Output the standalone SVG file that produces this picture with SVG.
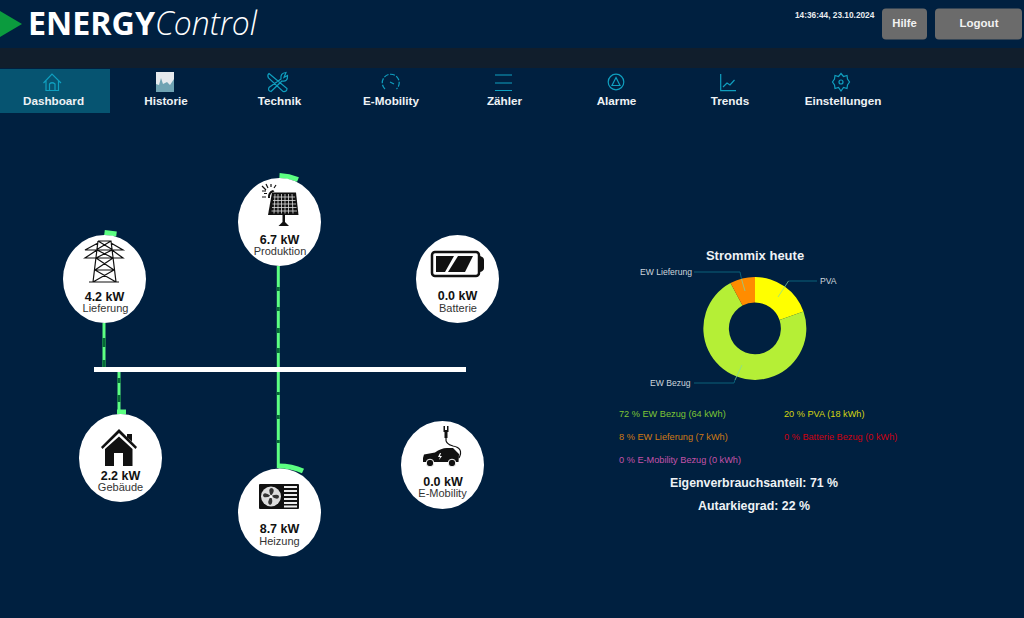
<svg xmlns="http://www.w3.org/2000/svg" width="1024" height="618" viewBox="0 0 1024 618">
<style>
text{font-family:"Liberation Sans",Arial,sans-serif}
.nav{font-size:11.7px;font-weight:700;fill:#eef2f5;text-anchor:middle}
.ic{fill:none;stroke:#0f9fbf;stroke-width:1.2}
.node{fill:#fff}
.kw{font-size:12.5px;font-weight:700;fill:#111;text-anchor:middle}
.lb{font-size:11px;fill:#333;text-anchor:middle}
.flow{fill:none;stroke:#5cff82;stroke-width:3}
.flowd{fill:none;stroke:#056b35;stroke-width:3}
.arc{fill:none;stroke:#5cff82;stroke-width:5}
.s{fill:none;stroke:#111;stroke-width:1.2}
.b{fill:#111}
.pl{font-size:8.6px;fill:#cdd5dc}
.ll{fill:none;stroke:#0b6079;stroke-width:1}
.li{fill:none;stroke:#7fd8a0;stroke-width:1;opacity:.7}
.lg{font-size:9.2px}
.big{font-size:12.35px;font-weight:700;fill:#eef2f5;text-anchor:middle}
</style>
<rect width="1024" height="618" fill="#002040"/>
<rect y="48" width="1024" height="20" fill="#111e2c"/>
<g id="header">
<polygon points="0,11 22,24 0,37" fill="#0b9b3e"/>
<text x="28" y="35" font-size="33" font-weight="700" fill="#fff" style="font-family:'Open Sans',sans-serif" textLength="127" lengthAdjust="spacingAndGlyphs">ENERGY</text>
<text x="155" y="35" font-size="33" font-weight="300" font-style="italic" fill="#fff" style="font-family:'Open Sans',sans-serif" textLength="102" lengthAdjust="spacingAndGlyphs">Control</text>
<text x="795" y="18" font-size="8.3" font-weight="700" fill="#e8ecef">14:36:44, 23.10.2024</text>
<rect x="882" y="8.500" width="45" height="31" rx="4" fill="#6b6b6b"/>
<text x="904.500" y="27" font-size="11.300" font-weight="700" fill="#f2f2f2" text-anchor="middle">Hilfe</text>
<rect x="935" y="8.500" width="87" height="31" rx="4" fill="#6b6b6b"/>
<text x="979" y="27" font-size="11.500" font-weight="700" fill="#f2f2f2" text-anchor="middle">Logout</text>
</g>
<g id="nav">
<rect x="0" y="69" width="110" height="44" fill="#065471"/>
<path class="ic" d="M43.500 83 L52 74 L61 83 M46 81 V90.500 H58.500 V81 M49.500 90.500 V84 Q52 81.500 55 84 V90.500"/>
<text class="nav" x="53.500" y="105">Dashboard</text>
<rect x="156" y="72" width="18" height="20" fill="#e6eaee"/>
<path d="M156 92 V84 L159 85 L161 78 L163 84 L167 82 L170 85 L174 79 V92 Z" fill="#6fa3b3"/>
<text class="nav" x="166" y="105">Historie</text>
<path class="ic" d="M269 73.500 L287 88.500 Q287 92 283 91.500 L268.500 78 Q267 75 269 73.500 Z M286 72.500 Q280 73 281 79 L269 87.500 Q267.500 91 271 91.500 L282 81 Q288 82 287.500 75.500 L284 77.500 Z"/>
<text class="nav" x="279.500" y="105">Technik</text>
<path class="ic" d="M385 89 A8.500 8.500 0 1 1 396.500 89" stroke-dasharray="5 1.500"/><path class="ic" d="M390 82 L394 84"/>
<text class="nav" x="391" y="105">E-Mobility</text>
<path class="ic" d="M495 75 H512 M495 83 H512 M495 90.500 H512"/>
<text class="nav" x="504.500" y="105">Zähler</text>
<circle class="ic" cx="616" cy="82" r="7.800"/><path class="ic" d="M616 77.500 L620 85.500 H612 Z"/>
<text class="nav" x="616.500" y="105">Alarme</text>
<path class="ic" d="M720.700 74 V90.700 H736 M723 87 L727 83 L730 85 L734.500 80"/>
<text class="nav" x="730" y="105">Trends</text>
<path class="ic" d="M841 73.500 L843.500 76.500 L847 75.500 L847.500 79 L849.500 82 L847.500 85 L847 88.500 L843.500 87.500 L841 91 L838.500 87.500 L835 88.500 L834.500 85 L832.500 82 L834.500 79 L835 75.500 L838.500 76.500 Z"/><circle class="ic" cx="841" cy="82" r="2"/>
<text class="nav" x="843" y="105">Einstellungen</text>
</g>
<g id="connectors">
<path class="flow" d="M104 323 V367"/>
<path class="flow" d="M119 372 V414"/>
<path class="flow" d="M278.300 266 V468"/>
<path class="flowd" d="M104 338 V347 M104 360 V367 M119 378 V383 M119 395 V402 M278.300 287 V291 M278.300 307 V311 M278.300 328 V333 M278.300 348 V353 M278.300 392 V395 M278.300 415 V419 M278.300 440 V443"/>
<rect x="94" y="367" width="372" height="5" fill="#fff"/>
</g>
<g id="lieferung">
<path class="arc" d="M104.500 232.500 L116.500 234"/>
<ellipse class="node" cx="104.500" cy="279" rx="41.500" ry="44"/>
<path class="s" d="M89 282 H119 M98 241 H111 L116 282 M98 241 L93 282 M97 250 H112 M96 258 H113 M95 270 H114 M98 241 L113 250 M111 241 L96 250 M97 250 L113 258 M112 250 L96 258 M96 258 L114 270 M113 258 L95 270 M95 270 L116 282 M114 270 L93 282 M98 243 L85 250 H123 L111 243 M97 250 L85 258 H123 L112 250"/>
<text class="kw" x="104.500" y="300.500">4.2 kW</text><text class="lb" x="105.500" y="312">Lieferung</text>
</g>
<g id="produktion">
<path class="arc" d="M279.500 175.500 Q289 176 298 179.500"/>
<ellipse class="node" cx="279.500" cy="222" rx="41.500" ry="44"/>
<path class="b" d="M272 192.500 H296 L298.500 215 H268 Z"/>
<path d="M275 194 L274 213.500 M278 194 V213.500 M281.500 194 V213.500 M285 194 V213.500 M288.500 194 V213.500 M292 194 L293 213.500 M273.500 197 H295 M273 200.500 H295.500 M272.500 204 H296 M272 207.500 H296.500 M271.500 211 H297" stroke="#ddd" stroke-width=".8"/>
<path class="b" d="M282.500 215 H285 V222 L289 226 H278.500 L282.500 222 Z"/>
<path class="b" d="M273 190 A7 7 0 0 0 268 198 L270 198 A5.500 5.500 0 0 1 274.500 191.500 Z"/>
<path class="s" d="M262 186 L266 190 M266 184 L268 188 M271 184 V187 M276 185 L274 188 M262 191 H266 M262 197 H266 M264 193.500 H267" stroke-width="1.100"/>
<text class="kw" x="279.500" y="243.500">6.7 kW</text><text class="lb" x="280" y="255">Produktion</text>
</g>
<g id="batterie">
<ellipse class="node" cx="457.500" cy="279" rx="41.500" ry="44"/>
<rect x="432" y="252" width="47" height="24" rx="3" fill="none" stroke="#111" stroke-width="2.500"/>
<path class="b" d="M480 256 Q484 257 484 260 V268 Q484 271 480 272 Z M436 256 H454 L445 272 H436 Z M458 256 H473 L465 272 H448 Z"/>
<text class="kw" x="457.500" y="300">0.0 kW</text><text class="lb" x="458" y="312">Batterie</text>
</g>
<g id="gebaeude">
<path class="arc" d="M117 412 H126"/>
<ellipse class="node" cx="120.500" cy="458" rx="41.500" ry="44"/>
<path class="b" d="M119 429 L137 447 L135.500 449 L119 433 L102.500 449 L101 447 Z M127 434 H132 V441.500 L127 437 Z M119 436.500 L132.500 449 V466 H123 V453 H114 V466 H105 V449 Z"/>
<text class="kw" x="120.500" y="480">2.2 kW</text><text class="lb" x="120.500" y="491">Gebäude</text>
</g>
<g id="heizung">
<path class="arc" d="M278.500 466 Q292 466 303 471"/>
<ellipse class="node" cx="279.500" cy="512.500" rx="41.500" ry="44"/>
<rect x="259" y="484" width="40" height="25" rx="1" fill="#111"/>
<circle cx="271" cy="496.500" r="10" fill="#ddd"/>
<path d="M271 496 Q267 488 272 488 Q276 490 271 496 Q279 493 279 497 Q278 501 271 496 Q274 504 270 505 Q266 503 271 496 Q263 499 263 495 Q264 491 271 496 Z" fill="#333"/>
<circle cx="271" cy="496.500" r="1.500" fill="#fff"/>
<path d="M284 487 H297 M284 491 H297 M284 495 H297 M284 499 H297 M284 503 H297 M284 506.500 H297" stroke="#eee" stroke-width="1.800"/>
<text class="kw" x="279.500" y="533">8.7 kW</text><text class="lb" x="279.500" y="545">Heizung</text>
</g>
<g id="emobility">
<ellipse class="node" cx="442.500" cy="465" rx="41.500" ry="44"/>
<path class="b" d="M443.500 426 H445 V430 H447 V426 H448.500 V432 H447.500 V438 H444.500 V432 H443.500 Z"/>
<path class="s" d="M446 438 Q445 444 453 446 Q464 448 459 458" stroke-width="1.500"/>
<path class="b" d="M423 458 L424 454.500 L435 452.500 Q441 448 447 448 H453 L459 454 L458.500 462 L423 462 Z"/>
<circle cx="430" cy="463" r="3.800" fill="#111" stroke="#fff"/><circle cx="452" cy="463" r="3.800" fill="#111" stroke="#fff"/>
<path d="M440 453 L438 457 H440 L439 460 L442 456 H440 L441 453 Z" fill="#fff"/>
<text class="kw" x="443" y="485.500">0.0 kW</text><text class="lb" x="442.500" y="497">E-Mobility</text>
</g>
<g id="chart">
<text x="755" y="260" font-size="13" font-weight="700" fill="#eef2f5" text-anchor="middle">Strommix heute</text>
<path d="M755 277 A51.500 51.500 0 0 1 803.500 311.500 L779.500 320 A26 26 0 0 0 755 302.500 Z" fill="#ffff00"/>
<path d="M803.500 311.500 A51.500 51.500 0 1 1 730.500 283 L742.500 305.500 A26 26 0 1 0 779.500 320 Z" fill="#b5ef36"/>
<path d="M730.500 283 A51.500 51.500 0 0 1 755 277 V302.500 A26 26 0 0 0 742.500 305.500 Z" fill="#ff8c00"/>
<path class="ll" d="M694 272 H740 L741.500 279"/><path class="li" d="M741.500 279 L745 291"/>
<path class="ll" d="M817 281 H788.500"/><path class="li" d="M788.500 281 L778 297"/>
<path class="ll" d="M694 383 H734 L735 380"/><path class="li" d="M735 380 L742 365"/>
<text class="pl" x="640" y="275">EW Lieferung</text>
<text class="pl" x="820" y="284">PVA</text>
<text class="pl" x="650" y="386">EW Bezug</text>
</g>
<g id="legend">
<text class="lg" x="619" y="417" fill="#7fc435">72 % EW Bezug (64 kWh)</text>
<text class="lg" x="784" y="417" fill="#d4d410">20 % PVA (18 kWh)</text>
<text class="lg" x="619" y="440" fill="#d07a14">8 % EW Lieferung (7 kWh)</text>
<text class="lg" x="784" y="440" fill="#cc0010">0 % Batterie Bezug (0 kWh)</text>
<text class="lg" x="619" y="463" fill="#c552a8">0 % E-Mobility Bezug (0 kWh)</text>
<text class="big" x="754" y="487">Eigenverbrauchsanteil: 71 %</text>
<text class="big" x="754" y="510">Autarkiegrad: 22 %</text>
</g>
</svg>
